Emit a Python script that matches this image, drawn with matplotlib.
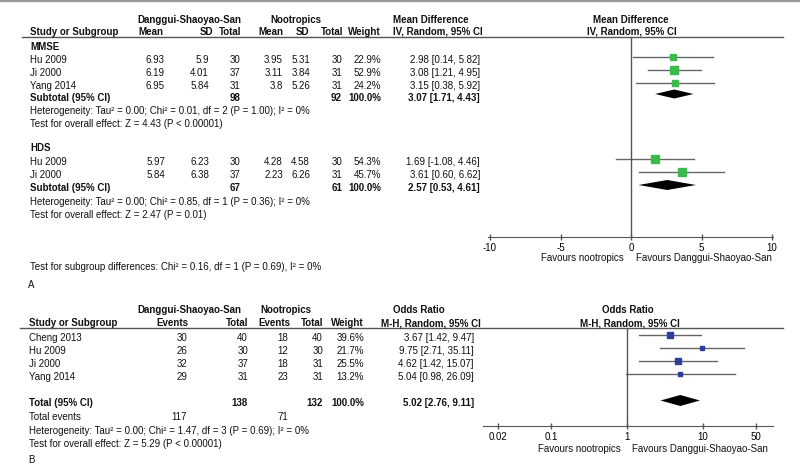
import numpy as np
import matplotlib
matplotlib.use('Agg')
import matplotlib.pyplot as plt

plt.rcParams['font.family'] = ['Liberation Sans', 'DejaVu Sans']
plt.rcParams['axes.unicode_minus'] = False
FS = 7.0

# ---- panel A data (mean difference) ----
mmse_study = ['Hu 2009', 'Ji 2000', 'Yang 2014']
mmse_mean1 = [6.93, 6.19, 6.95]
mmse_sd1 = [5.9, 4.01, 5.84]
mmse_n1 = [30, 37, 31]
mmse_mean2 = [3.95, 3.11, 3.8]
mmse_sd2 = [5.31, 3.84, 5.26]
mmse_n2 = [30, 31, 31]
mmse_w = [22.9, 52.9, 24.2]
mmse_md = [2.98, 3.08, 3.15]
mmse_lo = [0.14, 1.21, 0.38]
mmse_hi = [5.82, 4.95, 5.92]
mmse_tot = [3.07, 1.71, 4.43]

hds_study = ['Hu 2009', 'Ji 2000']
hds_mean1 = [5.97, 5.84]
hds_sd1 = [6.23, 6.38]
hds_n1 = [30, 37]
hds_mean2 = [4.28, 2.23]
hds_sd2 = [4.58, 6.26]
hds_n2 = [30, 31]
hds_w = [54.3, 45.7]
hds_md = [1.69, 3.61]
hds_lo = [-1.08, 0.60]
hds_hi = [4.46, 6.62]
hds_tot = [2.57, 0.53, 4.61]

# ---- panel B data (odds ratio) ----
or_study = ['Cheng 2013', 'Hu 2009', 'Ji 2000', 'Yang 2014']
or_ev1 = [30, 26, 32, 29]
or_n1 = [40, 30, 37, 31]
or_ev2 = [18, 12, 18, 23]
or_n2 = [40, 30, 31, 31]
or_w = [39.6, 21.7, 25.5, 13.2]
or_est = [3.67, 9.75, 4.62, 5.04]
or_lo = [1.42, 2.71, 1.42, 0.98]
or_hi = [9.47, 35.11, 15.07, 26.09]
or_tot = [5.02, 2.76, 9.11]

GREEN = '#3dba4c'
BLUE = '#2c3f9d'
LINE = '#555555'
CI = '#666666'


def ci_text(e, lo, hi):
    return '{:.2f} [{:.2f}, {:.2f}]'.format(e, lo, hi)


fig = plt.figure(figsize=(8, 4.68), dpi=100)
fig.patch.set_facecolor('white')
bg = fig.add_axes([0, 0, 1, 1])
bg.set_xlim(0, 800)
bg.set_ylim(468, 0)
bg.axis('off')


def t(x, y, s, ha='left', bold=False):
    bg.text(x, y, s, ha=ha, va='center', fontsize=FS,
            fontweight='bold' if bold else 'normal', color='#111111')


bg.axhline(0.8, color='#999999', lw=1.6)

# ================= panel A table =================
t(189, 20, 'Danggui-Shaoyao-San', ha='center', bold=True)
t(296, 20, 'Nootropics', ha='center', bold=True)
t(393, 20, 'Mean Difference', bold=True)
t(631, 20, 'Mean Difference', ha='center', bold=True)
t(30, 32, 'Study or Subgroup', bold=True)
for x, s in zip([163, 213, 241, 283, 309, 343, 381],
                ['Mean', 'SD', 'Total', 'Mean', 'SD', 'Total', 'Weight']):
    t(x, 32, s, ha='right', bold=True)
t(393, 32, 'IV, Random, 95% CI', bold=True)
t(632, 32, 'IV, Random, 95% CI', ha='center', bold=True)
bg.plot([22, 783], [36.5, 36.5], color=LINE, lw=1)

cols_a = [165, 209, 240, 283, 310, 342, 381, 480]


def study_rows(ys, study, m1, s1, n1, m2, s2, n2, w, md, lo, hi):
    for i, y in enumerate(ys):
        t(30, y, study[i])
        vals = ['{:g}'.format(m1[i]), '{:g}'.format(s1[i]), str(n1[i]),
                '{:g}'.format(m2[i]), '{:g}'.format(s2[i]), str(n2[i]),
                '{:.1f}%'.format(w[i]), ci_text(md[i], lo[i], hi[i])]
        for x, s in zip(cols_a, vals):
            t(x, y, s, ha='right')


mmse_y = [60, 73, 86]
hds_y = [162, 175]
t(30, 47, 'MMSE', bold=True)
study_rows(mmse_y, mmse_study, mmse_mean1, mmse_sd1, mmse_n1, mmse_mean2,
           mmse_sd2, mmse_n2, mmse_w, mmse_md, mmse_lo, mmse_hi)
t(30, 98, 'Subtotal (95% CI)', bold=True)
t(240, 98, str(sum(mmse_n1)), ha='right', bold=True)
t(342, 98, str(sum(mmse_n2)), ha='right', bold=True)
t(381, 98, '100.0%', ha='right', bold=True)
t(480, 98, ci_text(*mmse_tot), ha='right', bold=True)
t(30, 111, 'Heterogeneity: Tau² = 0.00; Chi² = 0.01, df = 2 (P = 1.00); I² = 0%')
t(30, 124, 'Test for overall effect: Z = 4.43 (P < 0.00001)')

t(30, 148, 'HDS', bold=True)
study_rows(hds_y, hds_study, hds_mean1, hds_sd1, hds_n1, hds_mean2,
           hds_sd2, hds_n2, hds_w, hds_md, hds_lo, hds_hi)
t(30, 188, 'Subtotal (95% CI)', bold=True)
t(240, 188, str(sum(hds_n1)), ha='right', bold=True)
t(342, 188, str(sum(hds_n2)), ha='right', bold=True)
t(381, 188, '100.0%', ha='right', bold=True)
t(480, 188, ci_text(*hds_tot), ha='right', bold=True)
t(30, 202, 'Heterogeneity: Tau² = 0.00; Chi² = 0.85, df = 1 (P = 0.36); I² = 0%')
t(30, 215, 'Test for overall effect: Z = 2.47 (P = 0.01)')
t(30, 267, 'Test for subgroup differences: Chi² = 0.16, df = 1 (P = 0.69), I² = 0%')
t(28, 285, 'A')
t(624, 258, 'Favours nootropics', ha='right')
t(636, 258, 'Favours Danggui-Shaoyao-San')

# ================= panel A forest =================
axa = fig.add_axes([488 / 800, 1 - 237 / 468, (773 - 488) / 800, (237 - 36.5) / 468])
axa.set_xlim((488 - 631) / 14.1, (773 - 631) / 14.1)
axa.set_ylim(237, 36.5)
axa.patch.set_alpha(0)


def diamond(ax, y, est, lo, hi, h):
    ax.fill([lo, est, hi, est], [y, y - h / 2, y, y + h / 2], color='black', lw=0)


for ys, md, lo, hi, w in [(mmse_y, mmse_md, mmse_lo, mmse_hi, mmse_w),
                          (hds_y, hds_md, hds_lo, hds_hi, hds_w)]:
    for i, y in enumerate(ys):
        axa.plot([lo[i], hi[i]], [y - 3.5, y - 3.5], color=CI, lw=1)
        axa.plot(md[i], y - 3.5, 's', color=GREEN, mec=GREEN,
                 ms=1.05 * np.sqrt(w[i]) * 0.72)
diamond(axa, 94, mmse_tot[0], mmse_tot[1], mmse_tot[2], 9)
diamond(axa, 185, hds_tot[0], hds_tot[1], hds_tot[2], 10)
axa.axvline(0, color=LINE, lw=1)
for s in ['top', 'left', 'right']:
    axa.spines[s].set_visible(False)
axa.spines['bottom'].set_color(LINE)
axa.set_yticks([])
axa.set_xticks([-10, -5, 0, 5, 10])
axa.set_xticklabels(['-10', '-5', '0', '5', '10'])
axa.tick_params(axis='x', direction='inout', length=5, width=1, color=LINE,
                labelsize=FS, pad=1.5)

# ================= panel B table =================
t(189, 310, 'Danggui-Shaoyao-San', ha='center', bold=True)
t(286, 310, 'Nootropics', ha='center', bold=True)
t(393, 310, 'Odds Ratio', bold=True)
t(628, 310, 'Odds Ratio', ha='center', bold=True)
t(29, 323, 'Study or Subgroup', bold=True)
for x, s in zip([188, 248, 290, 323, 364],
                ['Events', 'Total', 'Events', 'Total', 'Weight']):
    t(x, 323, s, ha='right', bold=True)
t(381, 323, 'M-H, Random, 95% CI', bold=True)
t(630, 323, 'M-H, Random, 95% CI', ha='center', bold=True)
bg.plot([20, 783], [328, 328], color=LINE, lw=1)

or_y = [338, 351, 364, 377]
cols_b = [187, 248, 288, 323, 364, 474]
for i, y in enumerate(or_y):
    t(29, y, or_study[i])
    vals = [str(or_ev1[i]), str(or_n1[i]), str(or_ev2[i]), str(or_n2[i]),
            '{:.1f}%'.format(or_w[i]), ci_text(or_est[i], or_lo[i], or_hi[i])]
    for x, s in zip(cols_b, vals):
        t(x, y, s, ha='right')
t(29, 403, 'Total (95% CI)', bold=True)
t(248, 403, str(sum(or_n1)), ha='right', bold=True)
t(323, 403, str(sum(or_n2)), ha='right', bold=True)
t(364, 403, '100.0%', ha='right', bold=True)
t(474, 403, ci_text(*or_tot), ha='right', bold=True)
t(29, 417, 'Total events')
t(187, 417, str(sum(or_ev1)), ha='right')
t(288, 417, str(sum(or_ev2)), ha='right')
t(29, 431, 'Heterogeneity: Tau² = 0.00; Chi² = 1.47, df = 3 (P = 0.69); I² = 0%')
t(29, 444, 'Test for overall effect: Z = 5.29 (P < 0.00001)')
t(28, 460, 'B')
t(621, 449, 'Favours nootropics', ha='right')
t(632, 449, 'Favours Danggui-Shaoyao-San')

# ================= panel B forest =================
axb = fig.add_axes([483 / 800, 1 - 426 / 468, (773 - 483) / 800, (426 - 328) / 468])
axb.set_xscale('log')
axb.set_xlim(10 ** ((483 - 627) / 76), 10 ** ((773 - 627) / 76))
axb.set_ylim(426, 328)
axb.patch.set_alpha(0)
for i, y in enumerate(or_y):
    axb.plot([or_lo[i], or_hi[i]], [y - 3, y - 3], color=CI, lw=1)
    axb.plot(or_est[i], y - 3, 's', color=BLUE, mec=BLUE,
             ms=1.05 * np.sqrt(or_w[i]) * 0.72)
diamond(axb, 400.5, or_tot[0], or_tot[1], or_tot[2], 11)
axb.axvline(1, color=LINE, lw=1)
for s in ['top', 'left', 'right']:
    axb.spines[s].set_visible(False)
axb.spines['bottom'].set_color(LINE)
axb.set_yticks([])
axb.minorticks_off()
axb.set_xticks([0.02, 0.1, 1, 10, 50])
axb.set_xticklabels(['0.02', '0.1', '1', '10', '50'])
axb.tick_params(axis='x', which='both', direction='inout', length=5, width=1,
                color=LINE, labelsize=FS, pad=1.5)

fig.savefig('out.png', dpi=100, facecolor='white')
